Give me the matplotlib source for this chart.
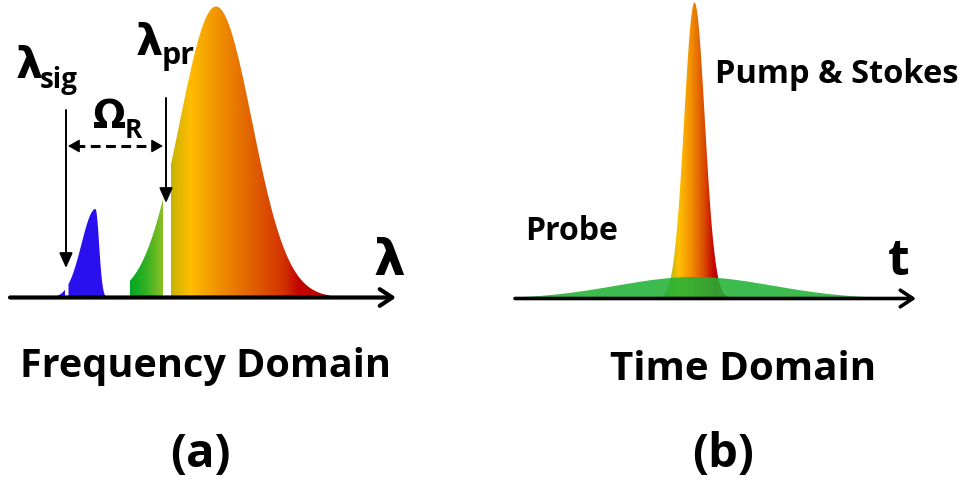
import numpy as np
import matplotlib
matplotlib.use("Agg")
import matplotlib.pyplot as plt
from matplotlib.patches import Polygon
from matplotlib.colors import LinearSegmentedColormap

plt.rcParams["font.family"] = ["Open Sans", "DejaVu Sans"]
plt.rcParams["font.weight"] = "bold"

# ---------------- panel (a): frequency domain ----------------
# spectral bands: centre, left width, right width, peak height (layout units)
pump_spectrum = [216, 36, 36, 291]
signal_spectrum = [95, 14, 3.6, 89]
# wavelength ranges that are filled for each band
stokes_band = [130, 163]      # green slice of the pump/Stokes spectrum
pump_band = [171, 330]        # orange slice
signal_band = [[48, 64.5], [68, 106]]
# marker wavelengths
lambda_sig = 66
lambda_pr = 166

# ---------------- panel (b): time domain ----------------
# pulses: centre, width, height, half-span
probe_pulse = [694, 78, 22, 172]
pump_pulse = [694.5, 10.3, 296, 42]

W, H = 967, 480
fig = plt.figure(figsize=(W / 100, H / 100), dpi=100)
ax = fig.add_axes([0, 0, 1, 1])
ax.set_axis_off()

base_a = 297.5
base_b = 298.5


def profile(x, c, sl, sr, h):
    s = np.where(x < c, sl, sr)
    return h * np.exp(-0.5 * ((x - c) / s) ** 2)


def shade(x, top, base, stops, zorder=2):
    """Fill the area between `top` and `base` with a horizontal gradient."""
    verts = np.column_stack([np.r_[x, x[::-1]],
                             np.r_[top, np.full_like(x, base)]])
    poly = Polygon(verts, closed=True, fc="none", ec="none")
    ax.add_patch(poly)
    x0, x1 = x[0], x[-1]
    cstops = [((px - x0) / (x1 - x0), c) for px, c in stops]
    cmap = LinearSegmentedColormap.from_list("band", cstops)
    im = ax.imshow(np.linspace(0, 1, 512)[None, :], cmap=cmap, aspect="auto",
                   extent=(x0, x1, base, top.min()), interpolation="bilinear",
                   zorder=zorder)
    im.set_clip_path(poly)


# pump / Stokes spectrum
xs = np.linspace(*stokes_band, 200)
shade(xs, base_a - profile(xs, *pump_spectrum), base_a,
      [(130, "#00a823"), (145, "#2fb023"), (163, "#8cc024")])
xp = np.linspace(*pump_band, 600)
shade(xp, base_a - profile(xp, *pump_spectrum), base_a,
      [(171, "#c8b400"), (190, "#ffbc00"), (216, "#f29400"), (250, "#e26400"),
       (283, "#d23400"), (300, "#c20000"), (330, "#c00000")])

# signal spectrum
for lo, hi in signal_band:
    xb = np.linspace(lo, hi, 200)
    ax.fill_between(xb, base_a, base_a - profile(xb, *signal_spectrum),
                    color="#2a10ee", lw=0, zorder=2)

# frequency axis
ax.annotate("", xy=(396, base_a), xytext=(10, base_a),
            arrowprops=dict(arrowstyle="->,head_length=9,head_width=6",
                            mutation_scale=1, lw=3, color="black",
                            shrinkA=0, shrinkB=0), zorder=5)

# wavelength markers
for xm, y0, y1 in [(lambda_sig, 110, 268), (lambda_pr, 98, 203)]:
    ax.annotate("", xy=(xm, y1), xytext=(xm, y0),
                arrowprops=dict(arrowstyle="-|>,head_length=9,head_width=4",
                                mutation_scale=1, lw=1.4, color="black",
                                shrinkA=0, shrinkB=0), zorder=6)

# Raman shift double arrow
y_om = 146
ax.plot([lambda_sig + 9, lambda_pr - 12], [y_om, y_om], color="black",
        lw=2.2, dashes=(3.2, 1.8), zorder=6)
for tip, tail in [(lambda_sig + 2, lambda_sig + 11), (lambda_pr - 3, lambda_pr - 12)]:
    ax.annotate("", xy=(tip, y_om), xytext=(tail, y_om),
                arrowprops=dict(arrowstyle="-|>,head_length=7,head_width=4",
                                mutation_scale=1, lw=1.0, color="black",
                                shrinkA=0, shrinkB=0), zorder=6)

greek = ["DejaVu Sans"]
ax.text(16, 78, "λ", fontsize=31, family=greek, weight="bold", va="baseline")
ax.text(40, 88, "sig", fontsize=20, weight="bold", va="baseline")
ax.text(136, 55, "λ", fontsize=31, family=greek, weight="bold", va="baseline")
ax.text(162, 64, "pr", fontsize=22, weight="bold", va="baseline")
ax.text(93, 128, "Ω", fontsize=28, family=greek, weight="bold", va="baseline")
ax.text(125, 138, "R", fontsize=19, weight="bold", va="baseline")
ax.text(374, 275, "λ", fontsize=36, family=greek, weight="bold", va="baseline")

ax.text(206, 377, "Frequency Domain", fontsize=28.5, weight="bold",
        ha="center", va="baseline")
ax.text(200, 467, "(a)", fontsize=34, weight="bold", ha="center", va="baseline")

# ---------------- time domain drawing ----------------
c, s, h, half = pump_pulse
xt = np.linspace(c - half, c + half, 600)
shade(xt, base_b - profile(xt, c, s, s, h), base_b,
      [(c - half, "#5aa820"), (666, "#90b822"), (678, "#ffc000"), (690, "#f39200"),
       (704, "#da4a00"), (714, "#c20000"), (c + half, "#c00000")], zorder=2)

c, s, h, half = probe_pulse
xg = np.linspace(c - half, c + half, 600)
ax.fill_between(xg, base_b, base_b - profile(xg, c, s, s, h),
                color="#22b236", alpha=0.88, lw=0, zorder=3)

ax.annotate("", xy=(916, base_b), xytext=(515, base_b),
            arrowprops=dict(arrowstyle="->,head_length=9,head_width=6",
                            mutation_scale=1, lw=2.6, color="black",
                            shrinkA=0, shrinkB=0), zorder=5)

ax.text(888, 275, "t", fontsize=36, weight="bold", va="baseline")
ax.text(715, 83, "Pump & Stokes", fontsize=23.5, weight="bold", va="baseline")
ax.text(525, 240, "Probe", fontsize=23, weight="bold", va="baseline")
ax.text(743, 380, "Time Domain", fontsize=29, weight="bold",
        ha="center", va="baseline")
ax.text(723, 467, "(b)", fontsize=34, weight="bold", ha="center", va="baseline")

ax.set_xlim(0, W)
ax.set_ylim(H, 0)
fig.savefig("out.png", dpi=100, facecolor="white")
